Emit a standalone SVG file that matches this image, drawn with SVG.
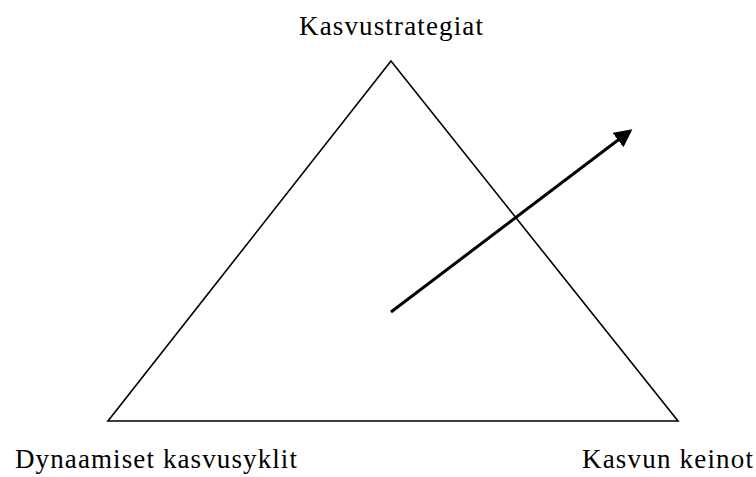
<svg xmlns="http://www.w3.org/2000/svg" width="756" height="477" viewBox="0 0 756 477">
<style>
text{font-family:"Liberation Serif","Times New Roman",serif;font-size:27px;fill:#000}
.tri{fill:none;stroke:#000;stroke-width:1.6;stroke-linejoin:miter}
.arr{stroke:#000;stroke-width:3;fill:none}
</style>
<defs>
<marker id="ah" markerWidth="6" markerHeight="6" refX="5" refY="3" orient="auto" markerUnits="strokeWidth">
<path d="M0,0 L6,3 L0,6 z" fill="#000"/>
</marker>
</defs>
<rect width="756" height="477" fill="#fff"/>
<g id="triangle">
<polygon class="tri" points="391,61 108,421 678,421"/>
</g>
<g id="label-top"><text x="391" y="35" text-anchor="middle" textLength="184">Kasvustrategiat</text></g>
<g id="label-left"><text x="15" y="468" textLength="282">Dynaamiset kasvusyklit</text></g>
<g id="label-right"><text x="582" y="468" textLength="171">Kasvun keinot</text></g>
<g id="connectors">
<line class="arr" x1="391" y1="312" x2="630" y2="131" marker-end="url(#ah)"/>
</g>
</svg>
